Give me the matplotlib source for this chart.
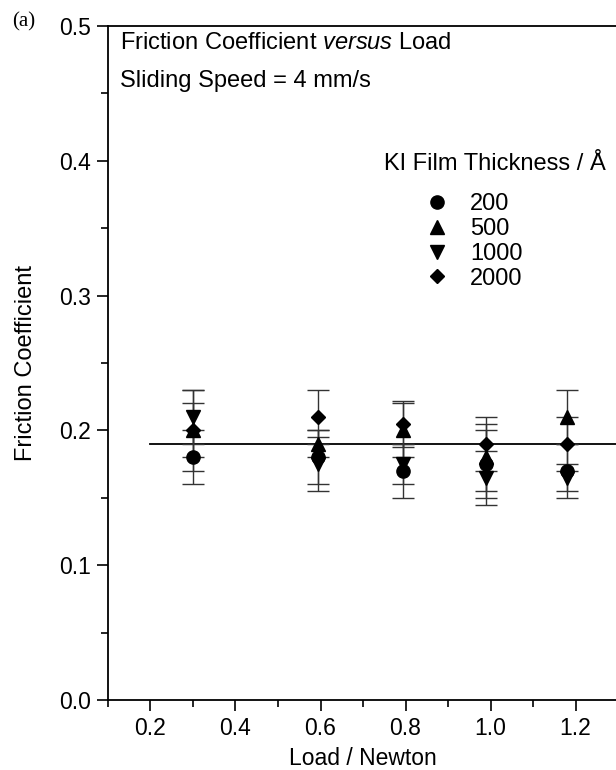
import matplotlib
matplotlib.use("Agg")
import matplotlib.pyplot as plt
from matplotlib.ticker import MultipleLocator, FormatStrFormatter
from matplotlib.lines import Line2D

plt.rcParams['font.family'] = ['Liberation Sans', 'DejaVu Sans']
plt.rcParams['mathtext.fontset'] = 'custom'
plt.rcParams['mathtext.rm'] = 'Liberation Sans'
plt.rcParams['mathtext.it'] = 'Liberation Sans:italic'

# Data
loads = [0.3, 0.595, 0.795, 0.99, 1.18]
labels = ['200', '500', '1000', '2000']
mu_200 = [0.18, 0.18, 0.17, 0.175, 0.17]
err_200 = [0.02, 0.02, 0.02, 0.025, 0.02]
mu_500 = [0.20, 0.19, 0.20, 0.18, 0.21]
err_500 = [0.03, 0.01, 0.02, 0.025, 0.02]
mu_1000 = [0.21, 0.175, 0.175, 0.165, 0.165]
err_1000 = [0.02, 0.02, 0.015, 0.02, 0.01]
mu_2000 = [0.20, 0.21, 0.205, 0.19, 0.19]
err_2000 = [0.02, 0.02, 0.017, 0.02, 0.02]
mean_mu = 0.19
line_x = [0.2, 1.3]

fig = plt.figure(figsize=(6.16, 7.7), dpi=100)
ax = fig.add_axes([0.1753, 0.0909, 0.8280, 0.8753])

series = [(mu_200, err_200, 'o'), (mu_500, err_500, '^'),
          (mu_1000, err_1000, 'v'), (mu_2000, err_2000, 'D')]
msizes = {'o': 9.5, '^': 9.5, 'v': 9.5, 'D': 7.5}
for (vals, errs, m), lab in zip(series, labels):
    ax.errorbar(loads, vals, yerr=errs, fmt=m, color='black', ms=msizes[m],
                ecolor='#333333', elinewidth=1.0, capsize=8, capthick=1.0,
                label=lab, zorder=3)

ax.plot(line_x, [mean_mu, mean_mu], color='black', lw=1.3, zorder=2)

ax.set_xlim(0.1, 1.3)
ax.set_ylim(0.0, 0.5)
ax.xaxis.set_major_locator(MultipleLocator(0.2))
ax.xaxis.set_minor_locator(MultipleLocator(0.1))
ax.yaxis.set_major_locator(MultipleLocator(0.1))
ax.yaxis.set_minor_locator(MultipleLocator(0.05))
ax.xaxis.set_major_formatter(FormatStrFormatter('%.1f'))
ax.yaxis.set_major_formatter(FormatStrFormatter('%.1f'))
ax.tick_params(axis='both', which='major', direction='out', length=8, width=1.2,
               labelsize=16.5, pad=4)
ax.tick_params(axis='both', which='minor', direction='out', length=5, width=1.2)
ax.spines['right'].set_visible(False)
for s in ['left', 'bottom', 'top']:
    ax.spines[s].set_linewidth(1.3)

ax.set_xlabel('Load / Newton', fontsize=16.5, labelpad=5)
ax.set_ylabel('Friction Coefficient', fontsize=17, labelpad=16)

ax.text(0.024, 0.975, r'Friction Coefficient $\mathit{versus}$ Load', transform=ax.transAxes,
        fontsize=17, va='center', ha='left')
ax.text(0.024, 0.919, 'Sliding Speed = 4 mm/s', transform=ax.transAxes,
        fontsize=17, va='center', ha='left')

fig.text(0.02, 0.972, '(a)', fontsize=15, family='Liberation Serif', va='center')

# legend title as text, entries via legend
ax.text(0.975, 0.795, 'KI Film Thickness / Å', transform=ax.transAxes,
        fontsize=17, va='center', ha='right')
proxies = [Line2D([], [], ls='none', marker=m, color='black', ms=msizes[m])
           for _, _, m in series]
ax.legend(handles=proxies, labels=labels, frameon=False, fontsize=17,
          loc='upper left', bbox_to_anchor=(0.627, 0.752),
          handlelength=0.8, handletextpad=1.0, labelspacing=0.12, borderpad=0.0,
          borderaxespad=0.0)

fig.savefig('out.png', dpi=100)
